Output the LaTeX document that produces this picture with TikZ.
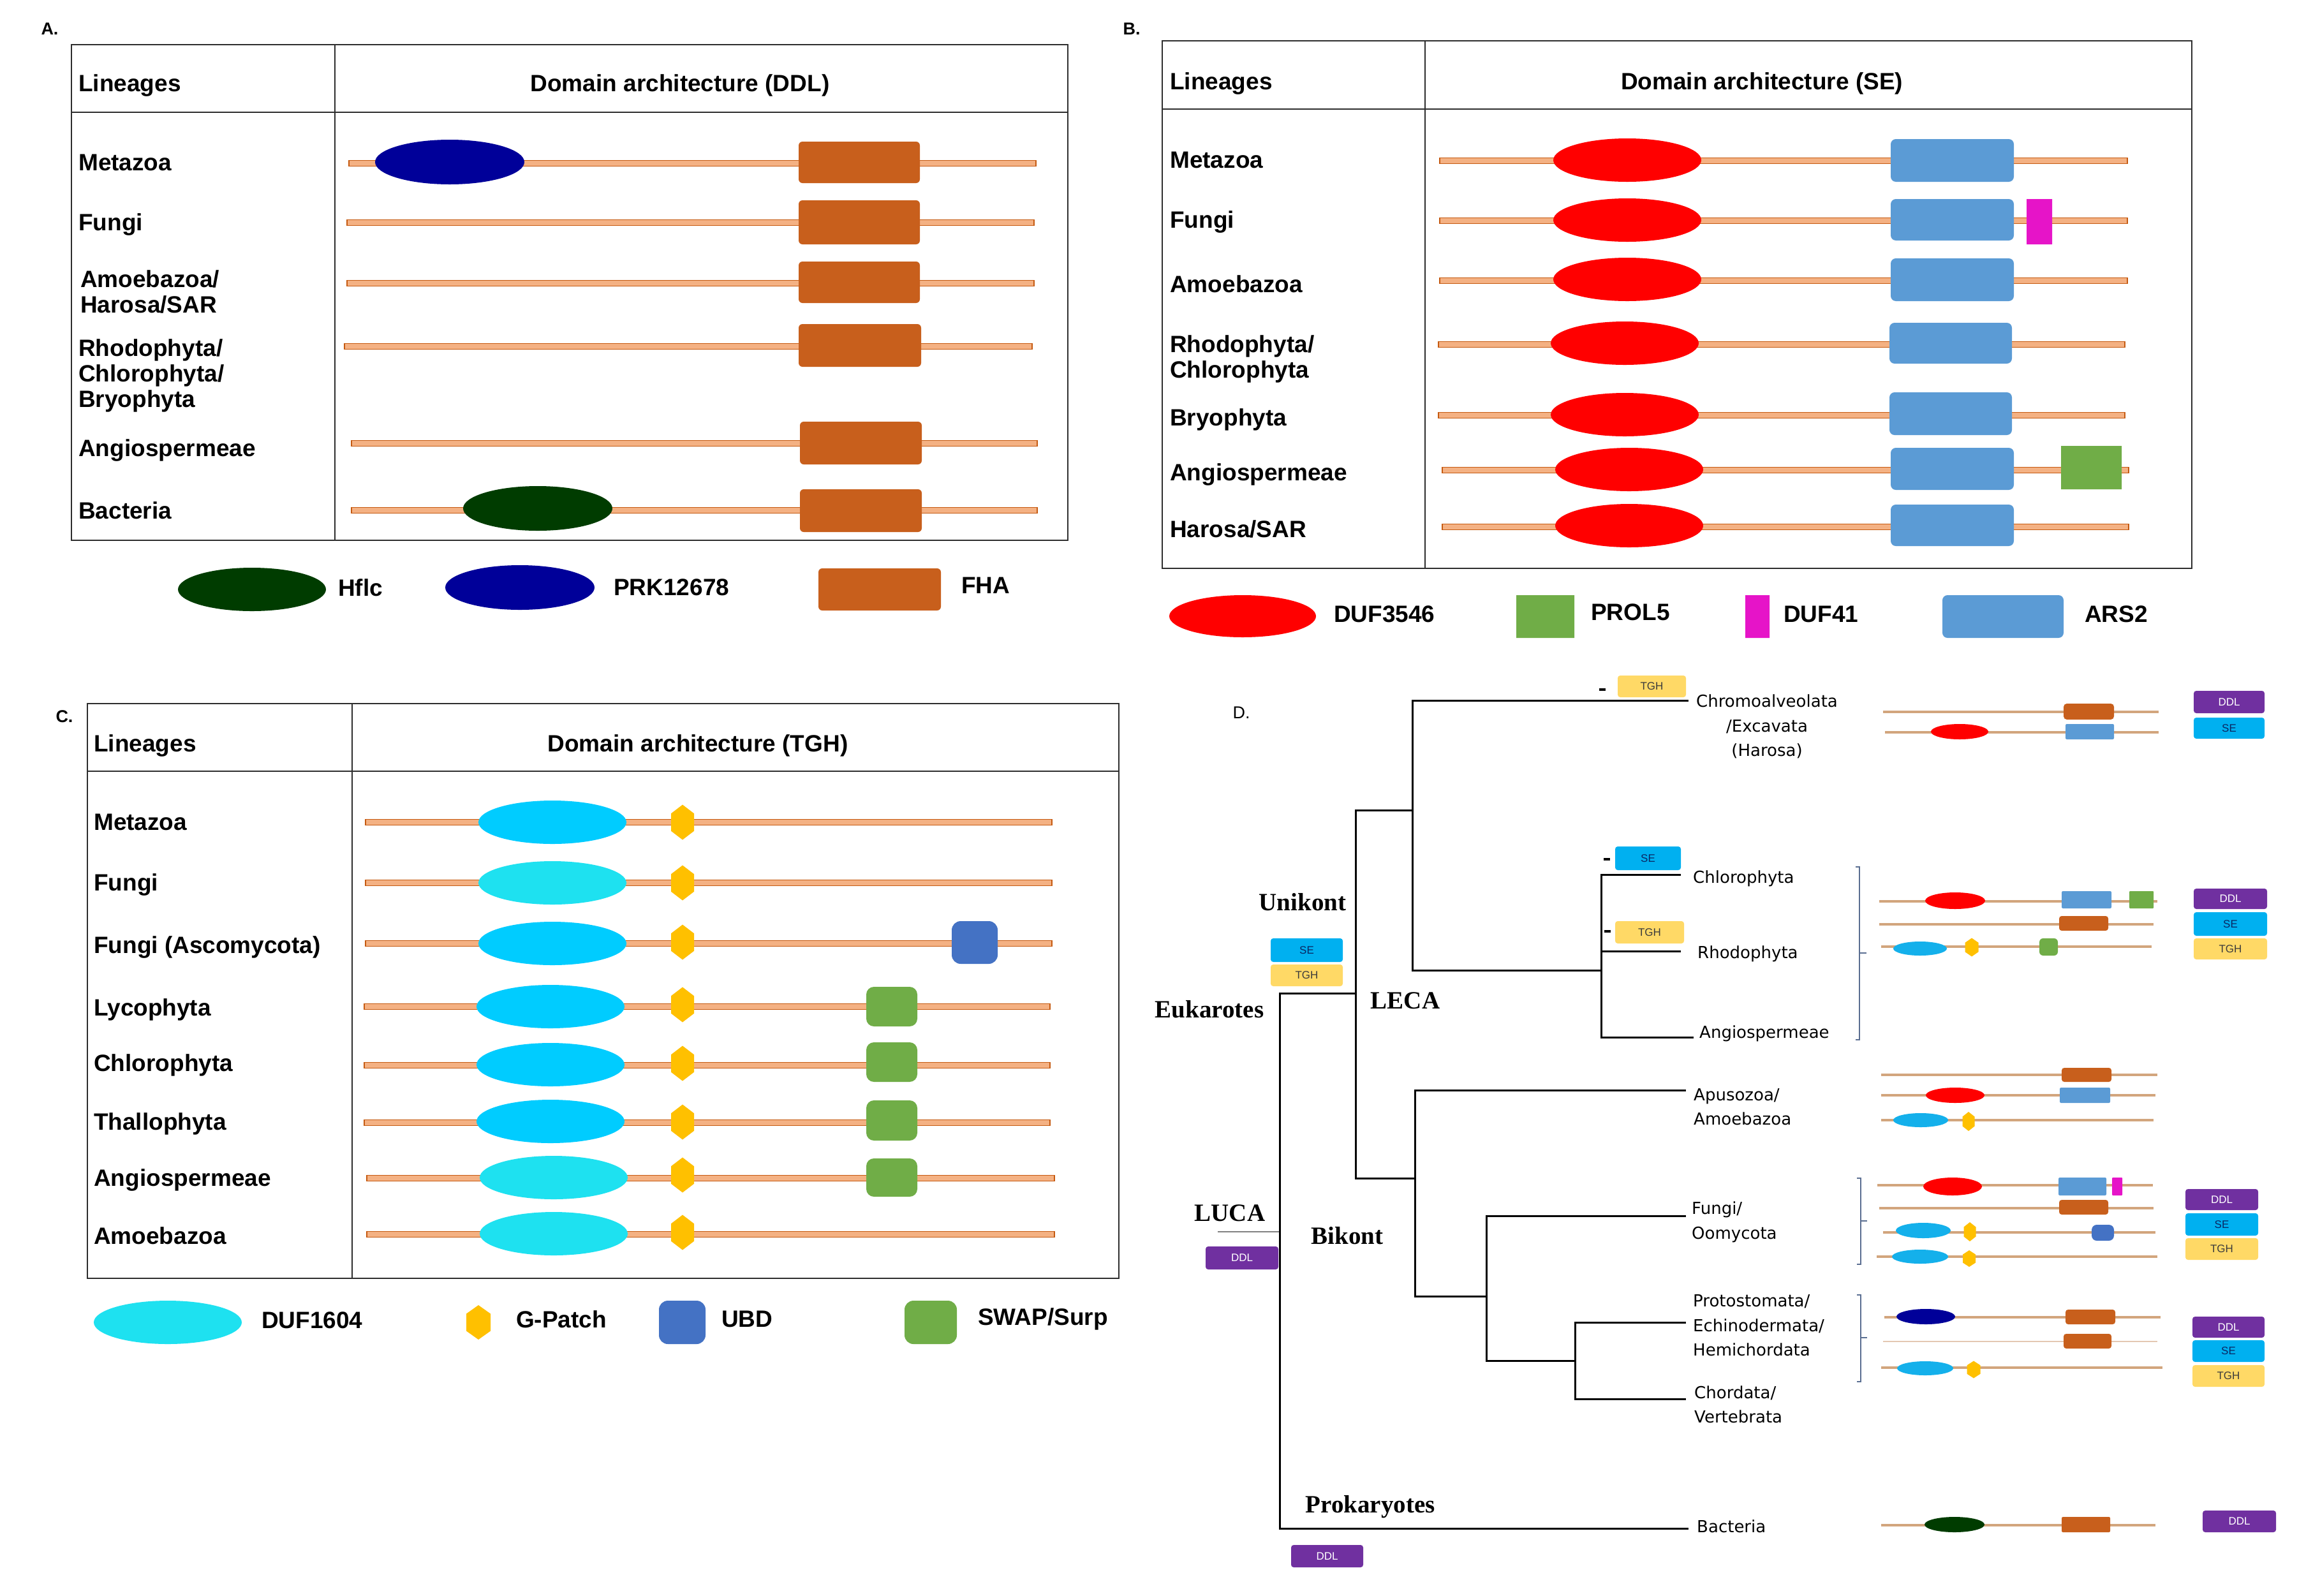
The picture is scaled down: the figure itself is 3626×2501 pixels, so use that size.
\documentclass[tikz,border=0pt]{standalone}
\usepackage{fontspec}
\setmainfont{Liberation Sans}
\newfontfamily\serifbold{Liberation Serif}
\newfontfamily\treefont{DejaVu Sans}
\definecolor{bbf}{RGB}{244,177,131}
\definecolor{bbd}{RGB}{197,90,17}
\definecolor{fhac}{RGB}{200,95,28}
\definecolor{prkc}{RGB}{0,0,153}
\definecolor{hflc}{RGB}{0,60,0}
\definecolor{dufr}{RGB}{255,0,0}
\definecolor{arsc}{RGB}{91,155,213}
\definecolor{magc}{RGB}{230,20,200}
\definecolor{grnc}{RGB}{112,173,71}
\definecolor{cyc}{RGB}{0,204,255}
\definecolor{cyl}{RGB}{30,225,240}
\definecolor{dcy}{RGB}{20,176,235}
\definecolor{gpc}{RGB}{255,192,0}
\definecolor{ubdc}{RGB}{68,114,196}
\definecolor{ddlc}{RGB}{112,48,160}
\definecolor{sec}{RGB}{0,176,240}
\definecolor{tghc}{RGB}{255,217,102}
\definecolor{dbb}{RGB}{210,165,125}
\definecolor{dbbl}{RGB}{228,200,178}
\definecolor{brk}{RGB}{90,110,145}
\definecolor{frm}{RGB}{45,45,45}
\newcommand\labfont{\fontsize{37}{40}\selectfont\bfseries}
\newcommand\treelab{\fontsize{26}{38.5}\selectfont\treefont}
\newcommand\cladefont{\fontsize{39}{42}\selectfont\serifbold\bfseries}
\newcommand\tagfont{\fontsize{17}{19}\selectfont}
\newcommand\bbar[3]{\filldraw[bbA] ({#1},{#3-4.5}) rectangle ({#2},{#3+4.5});}
\newcommand\domell[5]{\fill[#1] ({#2},{#3}) ellipse [x radius=#4, y radius=#5];}
\newcommand\dombox[6]{\fill[#1,rounded corners=#6] ({#2},{#3}) rectangle ({#4},{#5});}
\newcommand\gpatch[4]{\fill[gpc] ({#1},{#2-#4/2}) -- ({#1+#3/2},{#2-#4/4}) -- ({#1+#3/2},{#2+#4/4}) -- ({#1},{#2+#4/2}) -- ({#1-#3/2},{#2+#4/4}) -- ({#1-#3/2},{#2-#4/4}) -- cycle;}
\newcommand\dline[3]{\draw[dbbline] ({#1},{#3}) -- ({#2},{#3});}
\newcommand\tagb[7]{\node[tagbox,#2,minimum width={#5-#3},minimum height={#6-#4}] (#1) at ({(#3+#5)/2},{(#4+#6)/2}) {#7};}
\tikzset{
  bbA/.style={fill=bbf, draw=bbd, line width=1.5},
  frame/.style={draw=frm, line width=2.5},
  lab/.style={font=\labfont, anchor=west, inner sep=0},
  hdr/.style={font=\labfont, anchor=center, inner sep=0},
  plabel/.style={font=\fontsize{27}{30}\selectfont\bfseries, inner sep=0},
  tlab/.style={font=\treelab, anchor=west, inner sep=0, align=left},
  clade/.style={font=\cladefont, inner sep=0},
  tree/.style={draw=black, line width=3},
  dbbline/.style={draw=dbb, line width=4},
  dbbthin/.style={draw=dbbl, line width=2.5},
  brkline/.style={draw=brk, line width=2},
  lossmark/.style={draw=black, line width=4},
  tagbox/.style={rounded corners=4, inner sep=0, font=\tagfont},
  ddltag/.style={fill=ddlc, text=white},
  setag/.style={fill=sec, text={rgb,255:red,10;green,40;blue,100}},
  tghtag/.style={fill=tghc, text={rgb,255:red,60;green,60;blue,60}},
}
\begin{document}
\begin{tikzpicture}[x=1pt,y=-1pt]
\useasboundingbox (0,0) rectangle (3626,2501);
\fill[white] (0,0) rectangle (3626,2501);

% ================= Panel A =================
\node[plabel] (pA) at (78,45) {A.};
\draw[frame] (112,70) rectangle (1674,847);
\draw[frame] (112,176) -- (1674,176);
\draw[frame] (525,70) -- (525,847);
\node[lab] (aLin) at (123,134) {Lineages};
\node[hdr] (aHdr) at (1066,134) {Domain architecture (DDL)};
\node[lab] (aMet) at (123,255) {Metazoa};
\node[lab] (aFun) at (123,352) {Fungi};
\node[lab,align=left] (aAmo) at (126,457) {Amoebazoa/\\Harosa/SAR};
\node[lab,align=left] (aRho) at (123,589) {Rhodophyta/\\Chlorophyta/\\Bryophyta};
\node[lab] (aAng) at (123,706) {Angiospermeae};
\node[lab] (aBac) at (123,800) {Bacteria};
\bbar{547}{1624}{256} \domell{prkc}{705}{254}{117}{35} \dombox{fhac}{1252}{222}{1442}{287}{6}
\bbar{544}{1621}{349} \dombox{fhac}{1252}{314}{1442}{383}{6}
\bbar{544}{1621}{444} \dombox{fhac}{1252}{410}{1442}{475}{6}
\bbar{540}{1618}{543} \dombox{fhac}{1252}{508}{1444}{575}{6}
\bbar{551}{1626}{695} \dombox{fhac}{1254}{661}{1445}{728}{6}
\bbar{551}{1626}{800} \domell{hflc}{843}{797}{117}{35} \dombox{fhac}{1254}{767}{1445}{834}{6}
% legend A
\domell{hflc}{395}{924}{116}{34}
\node[lab] (aLg1) at (530,921) {Hflc};
\domell{prkc}{815}{921}{117}{35}
\node[lab] (aLg2) at (962,921) {PRK12678};
\dombox{fhac}{1283}{891}{1475}{957}{6}
\node[lab] (aLg3) at (1507,918) {FHA};

% ================= Panel B =================
\node[plabel] (pB) at (1774,45) {B.};
\draw[frame] (1822,64) rectangle (3436,891);
\draw[frame] (1822,171) -- (3436,171);
\draw[frame] (2234,64) -- (2234,891);
\node[lab] (bLin) at (1834,131) {Lineages};
\node[hdr] (bHdr) at (2762,131) {Domain architecture (SE)};
\node[lab] (bMet) at (1834,251) {Metazoa};
\node[lab] (bFun) at (1834,348) {Fungi};
\node[lab] (bAmo) at (1834,445) {Amoebazoa};
\node[lab,align=left] (bRho) at (1834,563) {Rhodophyta/\\Chlorophyta};
\node[lab] (bBry) at (1834,658) {Bryophyta};
\node[lab] (bAng) at (1834,744) {Angiospermeae};
\node[lab] (bHar) at (1834,829) {Harosa/SAR};
\bbar{2257}{3335}{252} \domell{dufr}{2551}{251}{116}{34} \dombox{arsc}{2964}{218}{3157}{285}{8}
\bbar{2257}{3335}{346} \domell{dufr}{2551}{345}{116}{34} \dombox{arsc}{2964}{312}{3157}{377}{8} \dombox{magc}{3177}{312}{3217}{383}{0.1}
\bbar{2257}{3335}{440} \domell{dufr}{2551}{438}{116}{34} \dombox{arsc}{2964}{405}{3157}{472}{8}
\bbar{2255}{3331}{540} \domell{dufr}{2547}{538}{116}{34} \dombox{arsc}{2962}{506}{3154}{570}{8}
\bbar{2255}{3331}{651} \domell{dufr}{2547}{650}{116}{34} \dombox{arsc}{2962}{615}{3154}{682}{8}
\bbar{2261}{3337}{737} \domell{dufr}{2554}{736}{116}{34} \dombox{arsc}{2964}{702}{3157}{768}{8} \dombox{grnc}{3231}{699}{3326}{767}{0.1}
\bbar{2261}{3337}{826} \domell{dufr}{2554}{824}{116}{34} \dombox{arsc}{2964}{791}{3157}{856}{8}
% legend B
\domell{dufr}{1948}{966}{115}{33}
\node[lab] (bLg1) at (2091,963) {DUF3546};
\dombox{grnc}{2377}{933}{2468}{1000}{0.1}
\node[lab] (bLg2) at (2494,960) {PROL5};
\dombox{magc}{2736}{933}{2774}{1000}{0.1}
\node[lab] (bLg3) at (2796,963) {DUF41};
\dombox{arsc}{3045}{933}{3235}{1000}{8}
\node[lab] (bLg4) at (3268,963) {ARS2};

% ================= Panel C =================
\node[plabel] (pC) at (101,1123) {C.};
\draw[frame] (137,1103) rectangle (1754,2004);
\draw[frame] (137,1209) -- (1754,1209);
\draw[frame] (552,1103) -- (552,2004);
\node[lab] (cLin) at (147,1169) {Lineages};
\node[hdr] (cHdr) at (1094,1169) {Domain architecture (TGH)};
\node[lab] (cMet) at (147,1289) {Metazoa};
\node[lab] (cFun) at (147,1387) {Fungi};
\node[lab] (cAsc) at (147,1485) {Fungi (Ascomycota)};
\node[lab] (cLyc) at (147,1583) {Lycophyta};
\node[lab] (cChl) at (147,1670) {Chlorophyta};
\node[lab] (cTha) at (147,1762) {Thallophyta};
\node[lab] (cAng) at (147,1850) {Angiospermeae};
\node[lab] (cAmo) at (147,1937) {Amoebazoa};
\bbar{573}{1649}{1289} \domell{cyc}{866}{1289}{116}{34} \gpatch{1070}{1289}{36}{55}
\bbar{573}{1649}{1384} \domell{cyl}{866}{1384}{116}{34} \gpatch{1070}{1384}{36}{55}
\bbar{573}{1649}{1479} \domell{cyc}{866}{1479}{116}{34} \gpatch{1070}{1477}{36}{55} \dombox{ubdc}{1492}{1444}{1564}{1511}{14}
\bbar{571}{1646}{1578} \domell{cyc}{863}{1578}{116}{34} \gpatch{1070}{1575}{36}{55} \dombox{grnc}{1358}{1547}{1438}{1609}{12}
\bbar{571}{1646}{1670} \domell{cyc}{863}{1669}{116}{34} \gpatch{1070}{1667}{36}{55} \dombox{grnc}{1358}{1634}{1438}{1696}{12}
\bbar{571}{1646}{1760} \domell{cyc}{863}{1758}{116}{34} \gpatch{1070}{1759}{36}{55} \dombox{grnc}{1358}{1725}{1438}{1788}{12}
\bbar{575}{1653}{1847} \domell{cyl}{868}{1846}{116}{34} \gpatch{1070}{1842}{36}{55} \dombox{grnc}{1358}{1816}{1438}{1876}{12}
\bbar{575}{1653}{1935} \domell{cyl}{868}{1934}{116}{34} \gpatch{1070}{1932}{36}{55}
% legend C
\domell{cyl}{263}{2073}{116}{34}
\node[lab] (cLg1) at (410,2070) {DUF1604};
\gpatch{750}{2073}{38}{54}
\node[lab] (cLg2) at (809,2068) {G-Patch};
\dombox{ubdc}{1033}{2039}{1106}{2107}{14}
\node[lab] (cLg3) at (1131,2068) {UBD};
\dombox{grnc}{1418}{2039}{1500}{2107}{14}
\node[lab] (cLg4) at (1533,2068) {SWAP/Surp};

% ================= Panel D : tree =================
\node[font=\fontsize{27}{30}\selectfont, inner sep=0] (pD) at (1946,1117) {D.};
\coordinate (lucaStart) at (1909,1931);
\coordinate (nRoot) at (2006,1931);
\coordinate (nLeca) at (2125,1557);
\coordinate (nUni) at (2214,1270);
\coordinate (nPlant) at (2510,1521);
\coordinate (nBik) at (2218,1847);
\coordinate (nFO) at (2330,2032);
\coordinate (nDeut) at (2469,2133);
\coordinate (tChromo) at (2647,1098);
\coordinate (tChloro) at (2635,1371);
\coordinate (tRhodo) at (2635,1491);
\coordinate (tAngio) at (2655,1626);
\coordinate (tApus) at (2643,1709);
\coordinate (tFungi) at (2643,1906);
\coordinate (tProto) at (2643,2073);
\coordinate (tChord) at (2643,2193);
\coordinate (tBact) at (2647,2396);
\draw[draw=gray, line width=2.5] (lucaStart) -- (nRoot);
\draw[tree] (nRoot) |- (nLeca);
\draw[tree] (nRoot) |- (tBact);
\draw[tree] (nLeca) |- (nUni);
\draw[tree] (nLeca) |- (nBik);
\draw[tree] (nUni) |- (tChromo);
\draw[tree] (nUni) |- (nPlant);
\draw[tree] (nPlant) |- (tChloro);
\draw[tree] (nPlant) |- (tRhodo);
\draw[tree] (nPlant) |- (tAngio);
\draw[tree] (nBik) |- (tApus);
\draw[tree] (nBik) |- (nFO);
\draw[tree] (nFO) |- (tFungi);
\draw[tree] (nFO) |- (nDeut);
\draw[tree] (nDeut) |- (tProto);
\draw[tree] (nDeut) |- (tChord);

% clade labels
\node[clade] (lUni) at (2042,1414) {Unikont};
\node[clade] (lEuk) at (1896,1582) {Eukarotes};
\node[clade] (lLeca) at (2203,1569) {LECA};
\node[clade] (lLuca) at (1928,1902) {LUCA};
\node[clade] (lBik) at (2112,1937) {Bikont};
\node[clade] (lProk) at (2148,2362) {Prokaryotes};

% taxon labels
\node[font=\treelab, inner sep=0, align=center] (xChromo) at (2770,1139) {Chromoalveolata\\/Excavata\\(Harosa)};
\node[tlab] (xChloro) at (2654,1377) {Chlorophyta};
\node[tlab] (xRhodo) at (2661,1495) {Rhodophyta};
\node[tlab] (xAngio) at (2664,1620) {Angiospermeae};
\node[tlab] (xApus) at (2655,1735) {Apusozoa/\\Amoebazoa};
\node[tlab] (xFungi) at (2652,1916) {Fungi/\\Oomycota};
\node[tlab] (xProto) at (2654,2078) {Protostomata/\\Echinodermata/\\Hemichordata};
\node[tlab] (xChord) at (2656,2202) {Chordata/\\Vertebrata};
\node[tlab] (xBact) at (2660,2393) {Bacteria};

% gain/loss tags on the tree
\tagb{gChromo}{tghtag}{2536}{1059}{2643}{1093}{TGH}
\coordinate (mChromoA) at (2507,1081); \coordinate (mChromoB) at (2517,1081);
\draw[lossmark] (mChromoA) -- (mChromoB);
\tagb{gChloro}{setag}{2532}{1327}{2635}{1364}{SE}
\coordinate (mChloroA) at (2514,1347); \coordinate (mChloroB) at (2524,1347);
\draw[lossmark] (mChloroA) -- (mChloroB);
\tagb{gRhodo}{tghtag}{2532}{1444}{2640}{1479}{TGH}
\coordinate (mRhodoA) at (2515,1460); \coordinate (mRhodoB) at (2525,1460);
\draw[lossmark] (mRhodoA) -- (mRhodoB);
\tagb{gUniSE}{setag}{1992}{1471}{2105}{1508}{SE}
\tagb{gUniTGH}{tghtag}{1992}{1512}{2105}{1546}{TGH}
\tagb{gLuca}{ddltag}{1890}{1954}{2004}{1990}{DDL}
\tagb{gProk}{ddltag}{2024}{2422}{2137}{2457}{DDL}

% ================= Panel D : domain rows =================
% Chromoalveolata
\dline{2952}{3384}{1116} \dombox{fhac}{3235}{1103}{3314}{1128}{5}
\dline{2955}{3384}{1148} \domell{dufr}{3072}{1147}{45}{12} \dombox{arsc}{3238}{1135}{3314}{1159}{2}
\tagb{kChDDL}{ddltag}{3439}{1083}{3550}{1118}{DDL}
\tagb{kChSE}{setag}{3439}{1125}{3550}{1158}{SE}
% plants
\draw[brkline] (2909,1359) -- (2915,1359) -- (2915,1630) -- (2909,1630);
\draw[brkline] (2915,1494) -- (2926,1494);
\dline{2946}{3382}{1413} \domell{dufr}{3065}{1412}{47}{13} \dombox{arsc}{3232}{1397}{3310}{1424}{2} \dombox{grnc}{3338}{1397}{3376}{1424}{1}
\dline{2946}{3376}{1449} \dombox{fhac}{3228}{1436}{3305}{1459}{4}
\dline{2949}{3373}{1484} \domell{dcy}{3010}{1487}{42}{11} \gpatch{3091}{1485}{21}{29} \dombox{grnc}{3197}{1471}{3226}{1498}{6}
\tagb{kPlDDL}{ddltag}{3439}{1393}{3554}{1425}{DDL}
\tagb{kPlSE}{setag}{3439}{1430}{3554}{1467}{SE}
\tagb{kPlTGH}{tghtag}{3439}{1471}{3554}{1504}{TGH}
% Apusozoa
\dline{2949}{3382}{1685} \dombox{fhac}{3232}{1674}{3310}{1696}{4}
\dline{2949}{3379}{1717} \domell{dufr}{3065}{1717}{46}{12} \dombox{arsc}{3229}{1705}{3308}{1729}{2}
\dline{2949}{3376}{1756} \domell{dcy}{3011}{1756}{43}{11} \gpatch{3086}{1758}{19}{30}
% Fungi
\draw[brkline] (2911,1847) -- (2917,1847) -- (2917,1982) -- (2911,1982);
\draw[brkline] (2917,1914) -- (2927,1914);
\dline{2943}{3375}{1858} \domell{dufr}{3061}{1860}{46}{14} \dombox{arsc}{3227}{1846}{3302}{1874}{2} \dombox{magc}{3311}{1846}{3327}{1874}{1}
\dline{2946}{3376}{1894} \dombox{fhac}{3228}{1881}{3305}{1904}{4}
\dline{2952}{3379}{1932} \domell{dcy}{3015}{1929}{43}{12} \gpatch{3088}{1931}{19}{30} \dombox{ubdc}{3279}{1920}{3314}{1945}{8}
\dline{2942}{3382}{1970} \domell{dcy}{3010}{1970}{44}{11} \gpatch{3087}{1973}{20}{26}
\tagb{kFuDDL}{ddltag}{3426}{1864}{3540}{1897}{DDL}
\tagb{kFuSE}{setag}{3426}{1902}{3540}{1937}{SE}
\tagb{kFuTGH}{tghtag}{3426}{1941}{3540}{1975}{TGH}
% Protostomata
\draw[brkline] (2911,2030) -- (2917,2030) -- (2917,2166) -- (2911,2166);
\draw[brkline] (2917,2097) -- (2927,2097);
\dline{2954}{3387}{2065} \domell{prkc}{3019}{2064}{46}{12} \dombox{fhac}{3238}{2053}{3316}{2076}{4}
\draw[dbbthin] (2952,2103) -- (3382,2103); \dombox{fhac}{3235}{2091}{3310}{2114}{4}
\dline{2949}{3390}{2144} \domell{dcy}{3018}{2145}{44}{11} \gpatch{3094}{2147}{21}{27}
\tagb{kPrDDL}{ddltag}{3437}{2064}{3550}{2097}{DDL}
\tagb{kPrSE}{setag}{3437}{2101}{3550}{2135}{SE}
\tagb{kPrTGH}{tghtag}{3437}{2140}{3550}{2174}{TGH}
% Bacteria
\dline{2949}{3379}{2391} \domell{hflc}{3064}{2390}{47}{12} \dombox{fhac}{3232}{2378}{3308}{2402}{2}
\tagb{kBaDDL}{ddltag}{3453}{2368}{3568}{2402}{DDL}
\end{tikzpicture}
\end{document}
